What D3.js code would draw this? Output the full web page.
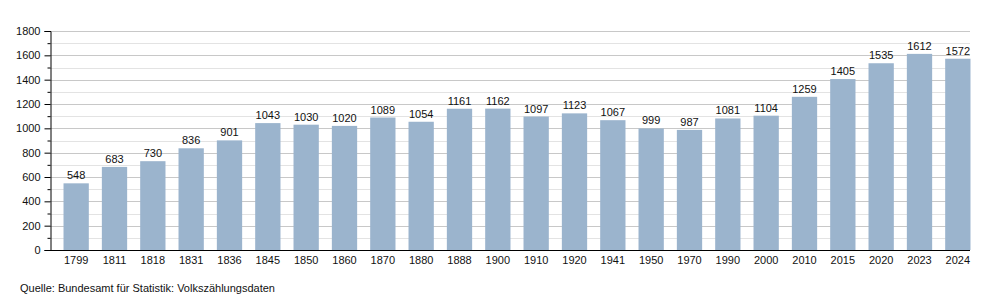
<!DOCTYPE html>
<html><head><meta charset="utf-8">
<script src="https://cdn.jsdelivr.net/npm/d3@7"></script>
<style>body{margin:0;background:#fff}svg{display:block}text{font-family:"Liberation Sans",Arial,sans-serif}</style>
</head><body><svg width="1000" height="300"></svg>
<script>
const years = ["1799","1811","1818","1831","1836","1845","1850","1860","1870","1880","1888","1900","1910","1920","1941","1950","1970","1990","2000","2010","2015","2020","2023","2024"];
const population = [548,683,730,836,901,1043,1030,1020,1089,1054,1161,1162,1097,1123,1067,999,987,1081,1104,1259,1405,1535,1612,1572];
const yTicks = [0,200,400,600,800,1000,1200,1400,1600,1800];
const yMinorTicks = [100,300,500,700,900,1100,1300,1500,1700];
const source = "Quelle: Bundesamt für Statistik: Volkszählungsdaten";

const svg = d3.select("svg");
const mLeft = 50, mRight = 970, mTop = 31, mBottom = 250;
const x = d3.scaleBand().domain(years).range([57, 977]).paddingInner(0.34).paddingOuter(0.17);
const y = d3.scaleLinear().domain([0, 1800]).range([mBottom, mTop]);

// gridlines
svg.append("g").selectAll("line").data(yMinorTicks).join("line")
  .attr("x1", mLeft).attr("x2", mRight)
  .attr("y1", d => Math.round(y(d)) + 0.5).attr("y2", d => Math.round(y(d)) + 0.5)
  .attr("stroke", "#e3e3e3").attr("stroke-width", 1);
svg.append("g").selectAll("line").data(yTicks.filter(d => d > 0)).join("line")
  .attr("x1", mLeft).attr("x2", mRight)
  .attr("y1", d => Math.round(y(d)) + 0.5).attr("y2", d => Math.round(y(d)) + 0.5)
  .attr("stroke", "#c8c8c8").attr("stroke-width", 1);

// bars
svg.append("g").selectAll("rect").data(population).join("rect")
  .attr("x", (d, i) => x(years[i])).attr("width", x.bandwidth())
  .attr("y", d => y(d)).attr("height", d => mBottom - y(d))
  .attr("fill", "#9bb4cd");

// value labels
svg.append("g").selectAll("text").data(population).join("text")
  .attr("x", (d, i) => x(years[i]) + x.bandwidth() / 2)
  .attr("y", d => y(d) - 4)
  .attr("text-anchor", "middle").attr("font-size", 11).attr("fill", "#111")
  .text(d => d);

// y axis
const yAxis = svg.append("g").attr("transform", `translate(${mLeft + 0.5},0)`)
  .call(d3.axisLeft(y).tickValues(yTicks).tickSize(6).tickPadding(4).tickFormat(d3.format("d")));
yAxis.select(".domain").attr("stroke", "#000");
yAxis.selectAll("text").attr("font-size", 11).attr("fill", "#111").style("font-family", "Liberation Sans, Arial, sans-serif");
svg.append("g").attr("transform", `translate(${mLeft + 0.5},0)`)
  .call(d3.axisLeft(y).tickValues(yMinorTicks).tickSize(3).tickFormat(""))
  .select(".domain").remove();

// x axis
const xAxis = svg.append("g").attr("transform", `translate(0,${mBottom + 0.5})`)
  .call(d3.axisBottom(x).tickSize(0).tickPadding(6).tickSizeOuter(0));
xAxis.select(".domain").attr("d", `M${mLeft},0H${mRight}`).attr("stroke", "#000");
xAxis.selectAll("text").attr("font-size", 11).attr("fill", "#111").style("font-family", "Liberation Sans, Arial, sans-serif");

svg.append("text").attr("x", 20).attr("y", 292).attr("font-size", 11).attr("fill", "#111").text(source);
</script></body></html>
